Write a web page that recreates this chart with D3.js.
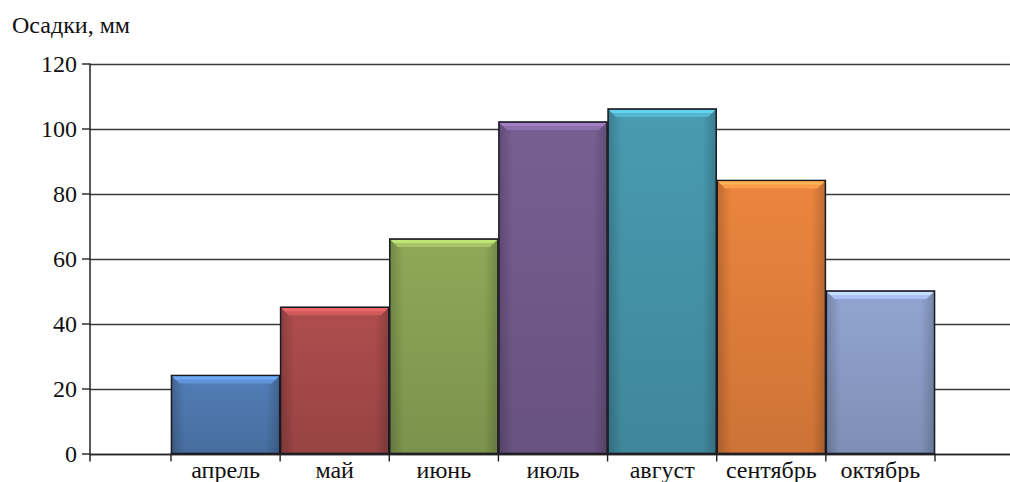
<!DOCTYPE html>
<html>
<head>
<meta charset="utf-8">
<script src="https://cdn.jsdelivr.net/npm/d3@7"></script>
<style>
  html, body { margin: 0; padding: 0; background: #fff; }
  svg { display: block; }
  text { font-family: "Liberation Serif", "DejaVu Serif", serif; fill: #111; }
</style>
</head>
<body>
<svg id="chart" width="1010" height="482"></svg>
<script>
// Monthly precipitation
const months = ["апрель", "май", "июнь", "июль", "август", "сентябрь", "октябрь"];
const precipitation = [24, 45, 66, 102, 106, 84, 50];
const barColors = ["#4e77ad", "#a6494a", "#86a053", "#725a8b", "#4593a8", "#e07e3b", "#8a9cc6"];
const yTicks = [0, 20, 40, 60, 80, 100, 120];
const yTitle = "Осадки, мм";

const svg = d3.select("#chart");
const axisX0 = 90, plotRight = 1010;
const fontSize = 24;

const x = d3.scaleBand().domain(months).range([171, 935]).padding(0);
const y = d3.scaleLinear().domain([0, 120]).range([453.5, 63.5]);

const defs = svg.append("defs");
months.forEach((m, i) => {
  const c = d3.color(barColors[i]);
  const g = defs.append("linearGradient").attr("id", "g" + i)
    .attr("x1", 0).attr("y1", 0).attr("x2", 0).attr("y2", 1);
  g.append("stop").attr("offset", 0).attr("stop-color", c.brighter(0.15));
  g.append("stop").attr("offset", 1).attr("stop-color", c.darker(0.25));
  const h = defs.append("linearGradient").attr("id", "h" + i)
    .attr("x1", 0).attr("y1", 0).attr("x2", 1).attr("y2", 0);
  h.append("stop").attr("offset", 0).attr("stop-color", "#000").attr("stop-opacity", 0.18);
  h.append("stop").attr("offset", 0.12).attr("stop-color", "#000").attr("stop-opacity", 0);
  h.append("stop").attr("offset", 0.88).attr("stop-color", "#000").attr("stop-opacity", 0);
  h.append("stop").attr("offset", 1).attr("stop-color", "#000").attr("stop-opacity", 0.18);
});

// gridlines
svg.append("g").selectAll("line").data(yTicks).join("line")
  .attr("x1", axisX0).attr("x2", plotRight)
  .attr("y1", d => Math.round(y(d)) + 0.5).attr("y2", d => Math.round(y(d)) + 0.5)
  .attr("stroke", "#3a3a3a").attr("stroke-width", 1.4);

// y axis
const yAxis = d3.axisLeft(y).tickValues(yTicks).tickSize(8).tickPadding(5);
const yg = svg.append("g").attr("transform", `translate(${axisX0},0)`).call(yAxis);
yg.select(".domain").remove();
yg.selectAll(".tick line").attr("stroke", "#222").attr("stroke-width", 1.4);
yg.selectAll(".tick text").attr("font-size", fontSize).attr("fill", "#111")
  .attr("font-family", "Liberation Serif, serif");
svg.append("line")
  .attr("x1", axisX0).attr("x2", axisX0)
  .attr("y1", y(120)).attr("y2", y(0) + 8)
  .attr("stroke", "#222").attr("stroke-width", 1.5);

// bars
const bars = svg.append("g").selectAll("g").data(months).join("g");
const bevel = 7;
bars.append("rect")
  .attr("x", d => x(d) + 0.5).attr("width", x.bandwidth() - 1)
  .attr("y", (d, i) => y(precipitation[i]))
  .attr("height", (d, i) => y(0) - y(precipitation[i]))
  .attr("fill", (d, i) => `url(#g${i})`)
  .attr("stroke", "#1a1a22").attr("stroke-width", 1.6);
bars.append("rect")
  .attr("x", d => x(d) + 1.5).attr("width", x.bandwidth() - 3)
  .attr("y", (d, i) => y(precipitation[i]) + 1)
  .attr("height", (d, i) => y(0) - y(precipitation[i]) - 2)
  .attr("fill", (d, i) => `url(#h${i})`);
// bevelled top edge
bars.append("path")
  .attr("d", (d, i) => {
    const x0 = x(d) + 1.5, x1 = x(d) + x.bandwidth() - 1.5, t = y(precipitation[i]) + 1;
    return `M${x0},${t}L${x1},${t}L${x1 - bevel},${t + bevel}L${x0 + bevel},${t + bevel}Z`;
  })
  .attr("fill", (d, i) => d3.color(barColors[i]).brighter(0.6));
bars.append("path")
  .attr("d", (d, i) => {
    const x0 = x(d) + 1.5, x1 = x(d) + x.bandwidth() - 1.5, t = y(precipitation[i]) + 1;
    return `M${x0},${t}L${x1},${t}L${x1 - 3},${t + 3}L${x0 + 3},${t + 3}Z`;
  })
  .attr("fill", (d, i) => d3.color(barColors[i]).brighter(1.0));

// x baseline
svg.append("line")
  .attr("x1", axisX0).attr("x2", plotRight)
  .attr("y1", Math.round(y(0)) + 0.5).attr("y2", Math.round(y(0)) + 0.5)
  .attr("stroke", "#222").attr("stroke-width", 1.6);

// x axis
const xAxis = d3.axisBottom(x).tickSize(0).tickPadding(6);
const xg = svg.append("g").attr("transform", `translate(0,${Math.round(y(0)) + 0.5})`).call(xAxis);
xg.select(".domain").remove();
xg.selectAll(".tick text").attr("font-size", fontSize).attr("fill", "#111")
  .attr("font-family", "Liberation Serif, serif");
// category separators
const edges = months.map(m => x(m)).concat([x(months[months.length - 1]) + x.bandwidth()]);
svg.append("g").selectAll("line").data(edges).join("line")
  .attr("x1", d => d).attr("x2", d => d)
  .attr("y1", y(0)).attr("y2", y(0) + 8)
  .attr("stroke", "#222").attr("stroke-width", 1.4);

// axis title
svg.append("text").attr("x", 12).attr("y", 33)
  .attr("font-size", fontSize).text(yTitle);
</script>
</body>
</html>
